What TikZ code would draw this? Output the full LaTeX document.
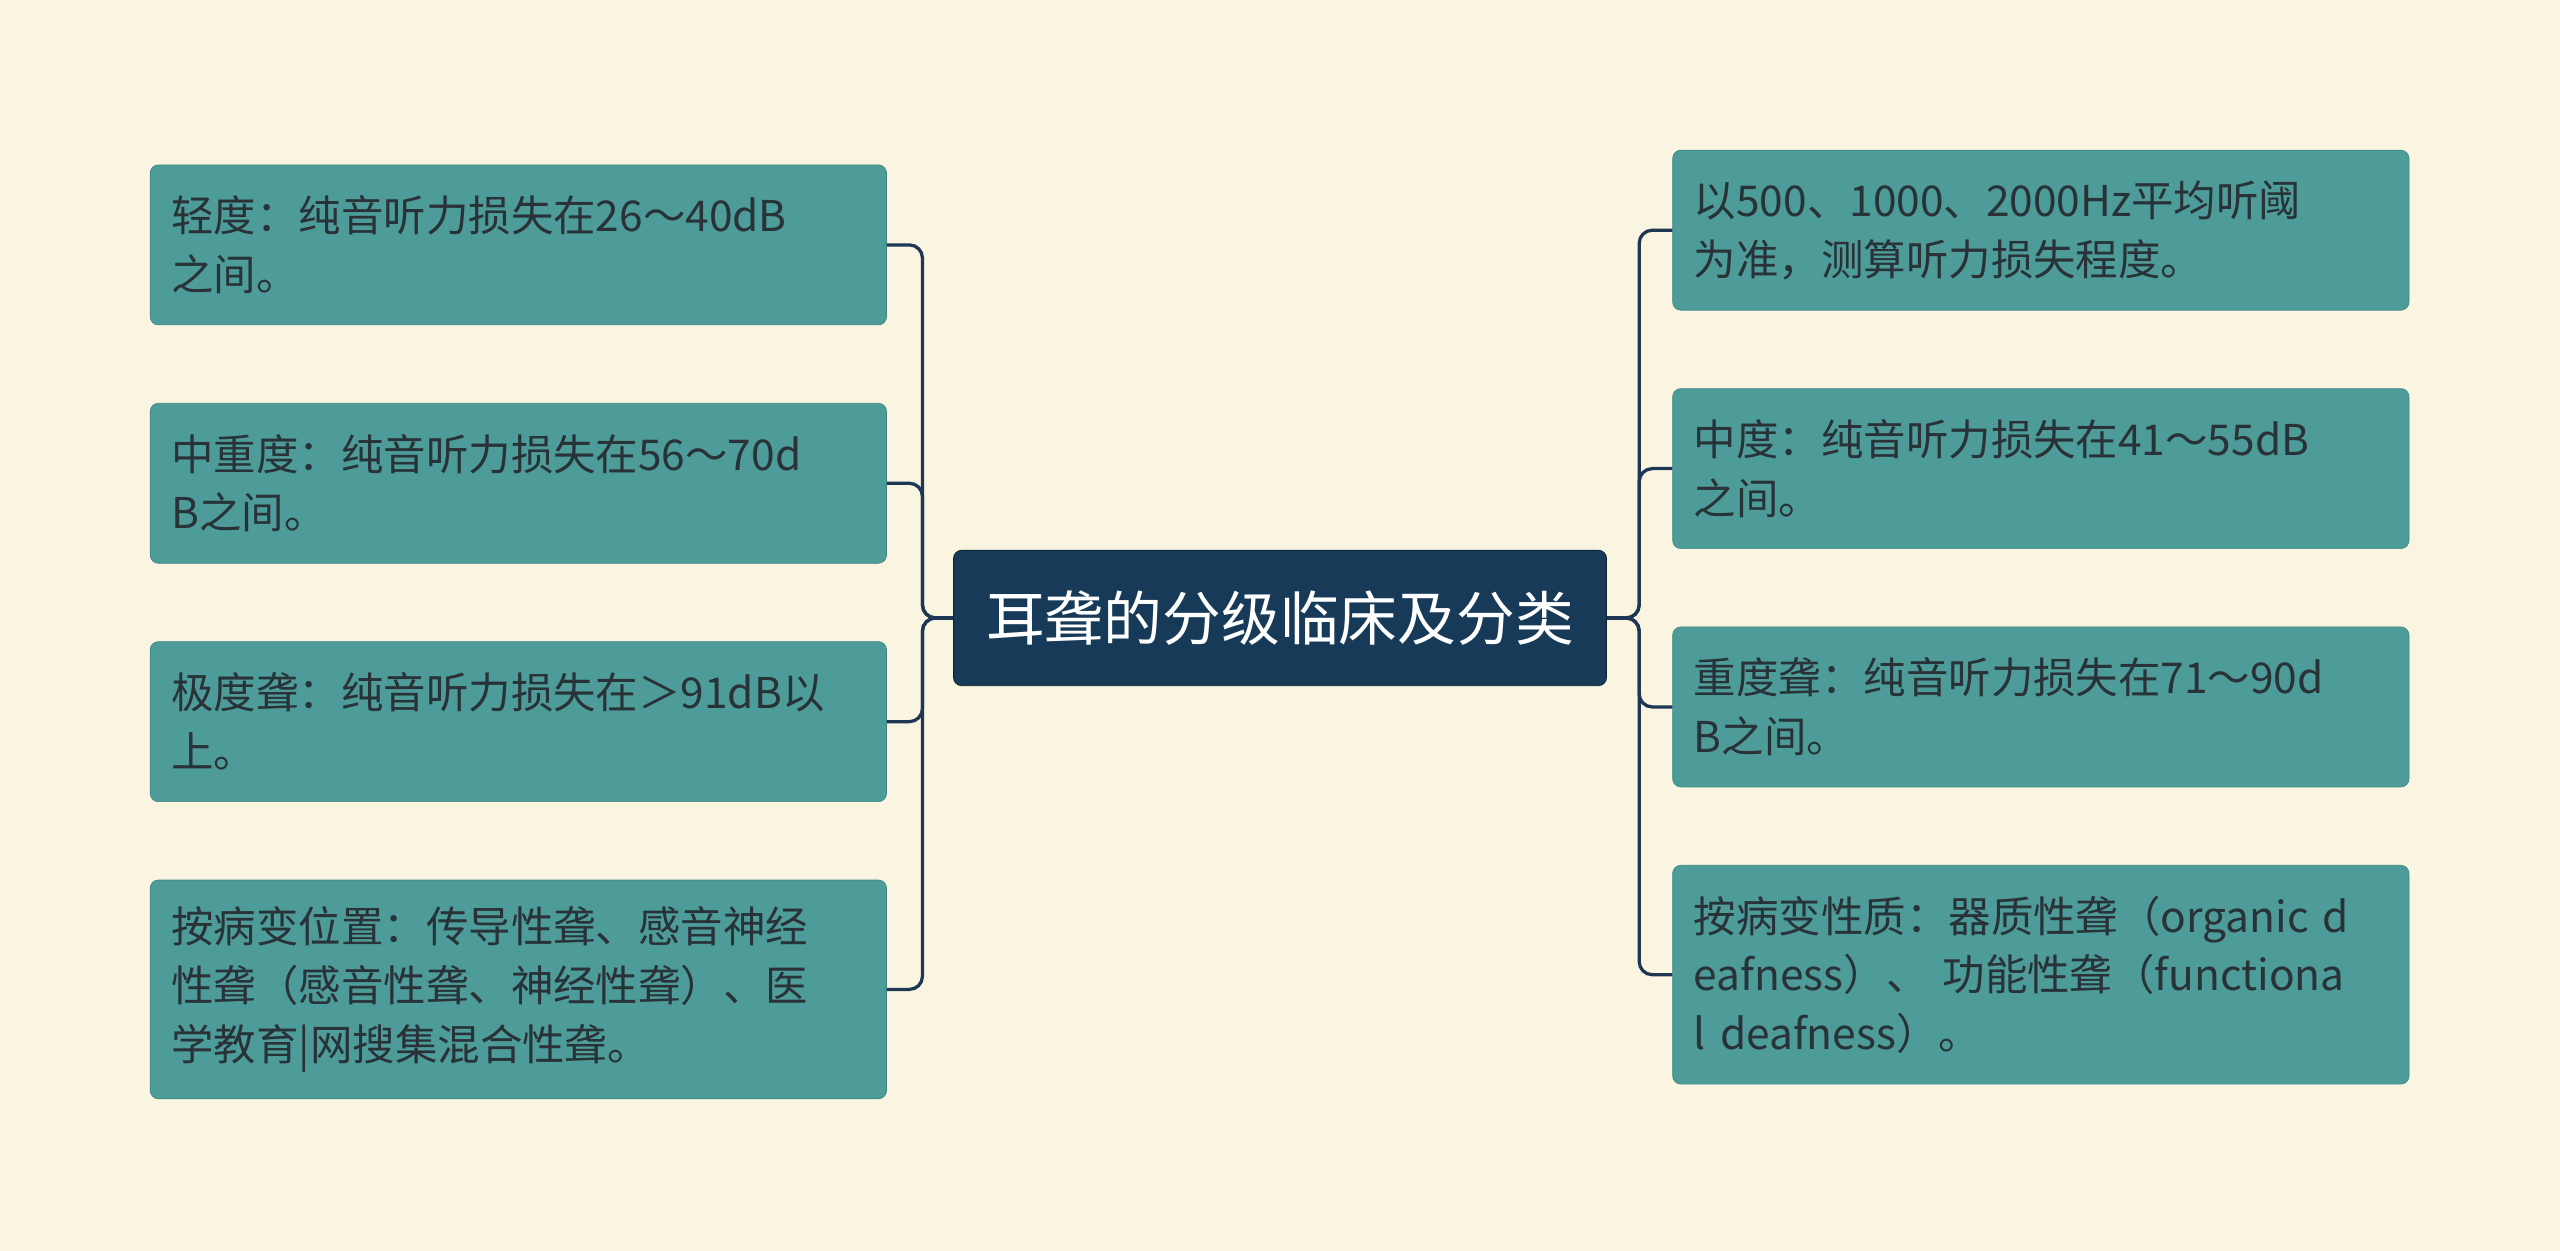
\documentclass[tikz,border=0pt]{standalone}
\usepackage{fontspec}
\setmainfont{Noto Sans CJK SC}
\definecolor{bg}{RGB}{250,245,224}
\definecolor{leaffill}{RGB}{77,156,154}
\definecolor{leafdraw}{RGB}{60,135,133}
\definecolor{leaftext}{RGB}{40,50,55}
\definecolor{cfill}{RGB}{23,58,89}
\definecolor{cdraw}{RGB}{10,30,50}
\definecolor{line}{RGB}{30,55,85}
\begin{document}
\begin{tikzpicture}[x=1pt,y=-1pt,
  leaf/.style={draw=leafdraw,fill=leaffill,rounded corners=5pt,minimum width=451pt,text width=425pt,align=left,font=\fontsize{26}{36}\selectfont,text=leaftext,inner sep=0pt},
  conn/.style={draw=line,line width=2pt,rounded corners=8pt}]
\fill[bg] (0,0) rectangle (1568,766);
\useasboundingbox (0,0) rectangle (1568,766);
\node[fill=cfill,draw=cdraw,rounded corners=5pt,minimum width=400pt,minimum height=83pt,text=white,font=\fontsize{36}{40}\selectfont] (c) at (784,378.5) {耳聋的分级临床及分类};
\node[leaf,minimum height=98pt] (l1) at (317.5,150) {轻度：纯音听力损失在26～40dB\\之间。};
\node[leaf,minimum height=98pt] (l2) at (317.5,296) {中重度：纯音听力损失在56～70d\\B之间。};
\node[leaf,minimum height=98pt] (l3) at (317.5,442) {极度聋：纯音听力损失在＞91dB以\\上。};
\node[leaf,minimum height=134pt] (l4) at (317.5,606) {按病变位置：传导性聋、感音神经\\性聋（感音性聋、神经性聋）、医\\学教育|网搜集混合性聋。};
\node[leaf,minimum height=98pt] (r1) at (1250,141) {以500、1000、2000Hz平均听阈\\为准，测算听力损失程度。};
\node[leaf,minimum height=98pt] (r2) at (1250,287) {中度：纯音听力损失在41～55dB\\之间。};
\node[leaf,minimum height=98pt] (r3) at (1250,433) {重度聋：纯音听力损失在71～90d\\B之间。};
\node[leaf,minimum height=134pt] (r4) at (1250,597) {按病变性质：器质性聋（organic d\\eafness）、 功能性聋（functiona\\l deafness）。};
\foreach \n in {l1,l2,l3,l4}
  \draw[conn] (c.west) -| (565,0 |- \n.east) -- (\n.east);
\foreach \n in {r1,r2,r3,r4}
  \draw[conn] (c.east) -| (1004,0 |- \n.west) -- (\n.west);
\end{tikzpicture}
\end{document}
